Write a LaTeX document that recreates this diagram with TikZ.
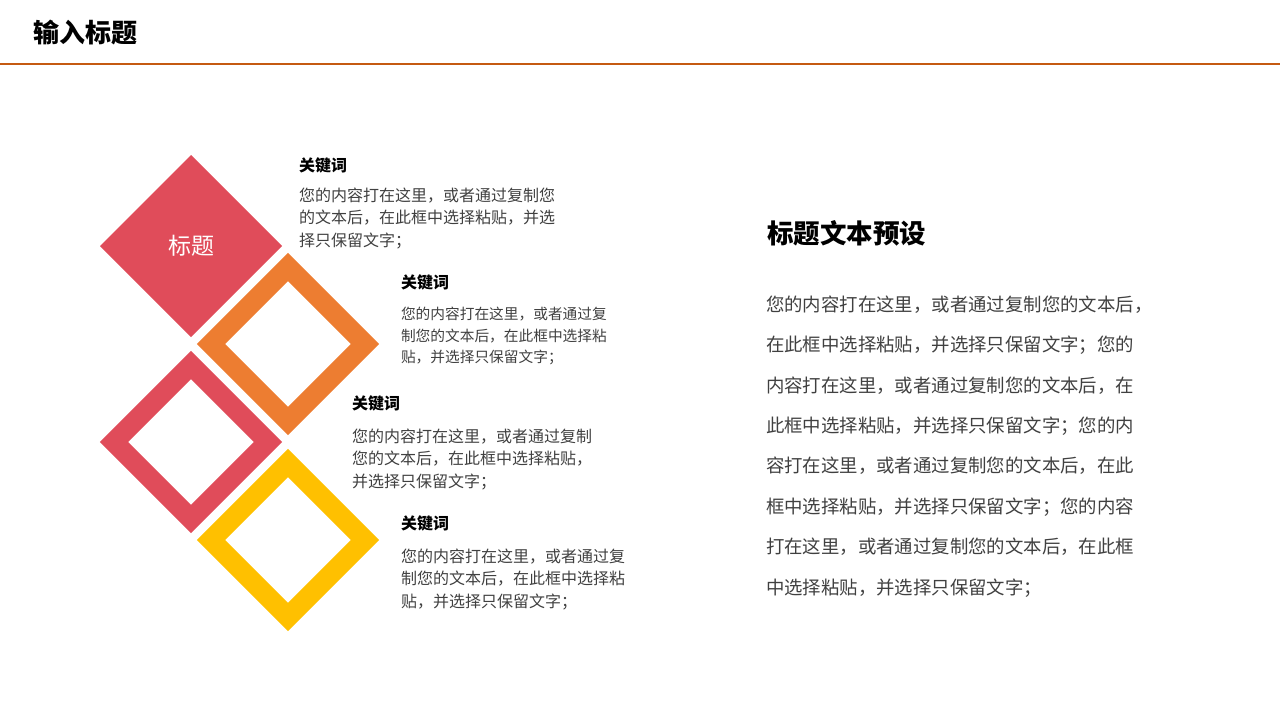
\documentclass[tikz,border=0pt]{standalone}
\usepackage{fontspec}
\setmainfont{Noto Sans CJK SC}
\usepackage{xcolor}
\usetikzlibrary{positioning, shapes.geometric}
\definecolor{mred}{RGB}{224,76,90}
\definecolor{morange}{RGB}{237,125,49}
\definecolor{myellow}{RGB}{255,192,0}
\definecolor{mline}{RGB}{197,90,17}
\definecolor{mtext}{RGB}{64,64,64}

\begin{document}
\begin{tikzpicture}[x=1pt, y=-1pt, inner sep=0pt, outer sep=0pt,
    dfill/.style={diamond, aspect=1, minimum size=182pt, fill=#1},
    dring/.style={diamond, aspect=1, minimum size=154pt, draw=#1, line width=20pt},
    kw/.style={anchor=base west, font=\fontsize{16}{16}\selectfont\bfseries},
    body/.style={anchor=base west, align=left, text=mtext, font=\fontsize{16}{22.5}\selectfont}]
    \useasboundingbox (0,0) rectangle (1280,720);

    % header
    \node (head) [anchor=base west, font=\fontsize{26}{26}\selectfont\bfseries] at (33,42) {输入标题};
    \coordinate (hl) at (0,63.5);
    \coordinate (hr) at (1280,63.5);
    \draw[mline, line width=2pt] (hl) -- (hr);

    % diamonds
    \node (tmark) [dfill=mred] at (191,246) {};
    \node (dorange) [dring=morange] at (288,344) {};
    \node (dred) [dring=mred] at (191,442) {};
    \node (dyellow) [dring=myellow] at (288,540) {};
    \node (tlabel) [text=white, font=\fontsize{23}{23}\selectfont] at (tmark) {标题};

    % keywords (body anchored at its last line)
    \node (k1) [kw] at (299,171) {关键词};
    \node (b1) [body] at (299,246) {您的内容打在这里，或者通过复制您\\的文本后，在此框中选择粘贴，并选\\择只保留文字；};
    \node (k2) [kw] at (401,288) {关键词};
    \node (b2) [body, font=\fontsize{14.7}{21.5}\selectfont] at (401,362.5) {您的内容打在这里，或者通过复\\制您的文本后，在此框中选择粘\\贴，并选择只保留文字；};
    \node (k3) [kw] at (352,409) {关键词};
    \node (b3) [body] at (352,487) {您的内容打在这里，或者通过复制\\您的文本后，在此框中选择粘贴，\\并选择只保留文字；};
    \node (k4) [kw] at (401,529) {关键词};
    \node (b4) [body] at (401,607) {您的内容打在这里，或者通过复\\制您的文本后，在此框中选择粘\\贴，并选择只保留文字；};

    % right side
    \node (rtitle) [anchor=base west, font=\fontsize{26.5}{26.5}\selectfont\bfseries] at (767,243) {标题文本预设};
    \node (rbody) [body, font=\fontsize{18.4}{40.4}\selectfont] at (766,594) {您的内容打在这里，或者通过复制您的文本后，\\在此框中选择粘贴，并选择只保留文字；您的\\内容打在这里，或者通过复制您的文本后，在\\此框中选择粘贴，并选择只保留文字；您的内\\容打在这里，或者通过复制您的文本后，在此\\框中选择粘贴，并选择只保留文字；您的内容\\打在这里，或者通过复制您的文本后，在此框\\中选择粘贴，并选择只保留文字；};
\end{tikzpicture}
\end{document}
